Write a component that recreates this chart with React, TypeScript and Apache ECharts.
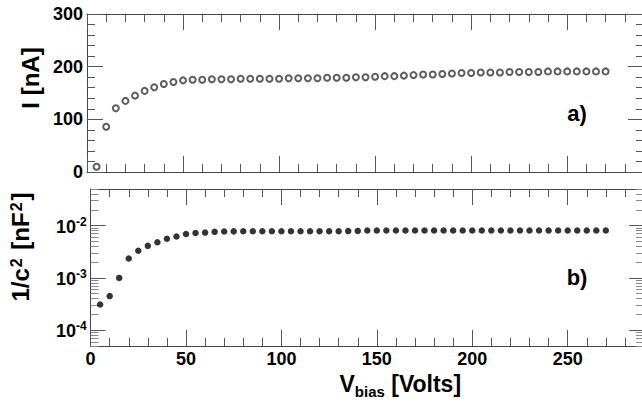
import React, { useEffect, useRef } from "react";
import * as echarts from "echarts";

// ---- data ----
const voltages = [
  5, 10, 15, 20, 25, 30, 35, 40, 45, 50,
  55, 60, 65, 70, 75, 80, 85, 90, 95, 100,
  105, 110, 115, 120, 125, 130, 135, 140, 145, 150,
  155, 160, 165, 170, 175, 180, 185, 190, 195, 200,
  205, 210, 215, 220, 225, 230, 235, 240, 245, 250,
  255, 260, 265, 270,
];

const currentNA = [
  10, 86, 121, 135, 145, 154, 161, 167, 171, 174,
  175, 175, 176, 176, 176, 177, 177, 177, 177, 177,
  178, 178, 178, 178, 179, 179, 179, 180, 180, 181,
  182, 182, 183, 184, 185, 185, 186, 187, 188, 188,
  189, 189, 189, 190, 190, 190, 190, 191, 191, 191,
  191, 191, 191, 191,
];

const invC2 = [
  3.1e-4, 4.5e-4, 1.0e-3, 2.35e-3, 3.3e-3, 4.1e-3, 4.8e-3, 5.6e-3, 6.2e-3, 6.9e-3,
  7.2e-3, 7.35e-3, 7.6e-3, 7.7e-3, 7.75e-3, 7.8e-3, 7.8e-3, 7.8e-3, 7.8e-3, 7.8e-3,
  7.8e-3, 7.8e-3, 7.8e-3, 7.8e-3, 7.8e-3, 7.8e-3, 7.85e-3, 7.9e-3, 8.05e-3, 8.05e-3,
  8.05e-3, 8.05e-3, 8.05e-3, 8.05e-3, 8.05e-3, 8.05e-3, 8.05e-3, 8.05e-3, 8.05e-3, 8.05e-3,
  8.05e-3, 8.05e-3, 8.05e-3, 8.05e-3, 8.05e-3, 8.05e-3, 8.05e-3, 8.05e-3, 8.05e-3, 8.05e-3,
  8.05e-3, 8.05e-3, 8.05e-3, 8.05e-3,
];

const xRange = [0, 290];
const xMajorStep = 50;
const xMinorStep = 10;
const currentRange = [0, 300];
const currentMajorStep = 100;
const invC2Range = [5e-5, 5e-2];
const logMajorExponents = [-4, -3, -2];
const logMinorMultipliers = [2, 3, 4, 5, 6, 7, 8, 9];
const logMinorDecades = [-5, -4, -3, -2];

const FONT = "'Liberation Sans', Arial, Helvetica, sans-serif";
const LINE_COLOR = "#444";
const TICK_COLOR = "#555";
const MINOR_LOG_COLOR = "#888";

const LOG_MIN = Math.log10(invC2Range[0]);
const LOG_MAX = Math.log10(invC2Range[1]);
const logMinorTicks: number[] = [];
logMinorDecades.forEach((d) =>
  logMinorMultipliers.forEach((m) => {
    const v = Math.log10(m * Math.pow(10, d));
    if (v > LOG_MIN - 1e-9 && v < LOG_MAX + 1e-9) logMinorTicks.push(v);
  })
);

const tickLabelStyle = {
  fontSize: 18,
  fontWeight: "bold" as const,
  fontFamily: FONT,
  color: "#000",
};

function xAxes(gridIndex: number, position: "top" | "bottom", labels: boolean, extra: any = {}) {
  const base = {
    type: "value",
    gridIndex,
    position,
    min: xRange[0],
    max: xRange[1],
    splitLine: { show: false },
  };
  return [
    {
      ...base,
      interval: xMajorStep,
      axisLine: { show: true, onZero: false, lineStyle: { color: LINE_COLOR, width: 1 } },
      axisTick: { show: true, inside: true, length: 16, lineStyle: { color: TICK_COLOR, width: 1 } },
      axisLabel: { show: labels, ...tickLabelStyle, margin: 4, showMaxLabel: false },
      ...extra,
    },
    {
      ...base,
      interval: xMinorStep,
      axisLine: { show: false, onZero: false },
      axisTick: { show: true, inside: true, length: 8, lineStyle: { color: TICK_COLOR, width: 1 } },
      axisLabel: { show: false },
    },
  ];
}

function currentAxis(position: "left" | "right", labels: boolean, extra: any = {}) {
  return {
    type: "value",
    gridIndex: 0,
    position,
    min: currentRange[0],
    max: currentRange[1],
    interval: currentMajorStep,
    splitLine: { show: false },
    axisLine: { show: true, onZero: false, lineStyle: { color: LINE_COLOR, width: 1 } },
    axisTick: { show: true, inside: true, length: 16, lineStyle: { color: TICK_COLOR, width: 1 } },
    minorTick: { show: true, splitNumber: 5, length: 8, lineStyle: { color: TICK_COLOR, width: 1 } },
    axisLabel: { show: labels, ...tickLabelStyle, margin: 4 },
    ...extra,
  };
}

function logAxes(position: "left" | "right", labels: boolean, extra: any = {}) {
  const base = {
    type: "value",
    gridIndex: 1,
    position,
    min: LOG_MIN,
    max: LOG_MAX,
    splitLine: { show: false },
  };
  return [
    {
      ...base,
      axisLine: { show: true, onZero: false, lineStyle: { color: LINE_COLOR, width: 1 } },
      axisTick: {
        show: true,
        inside: true,
        length: 15,
        customValues: logMajorExponents,
        lineStyle: { color: TICK_COLOR, width: 1 },
      },
      axisLabel: {
        show: labels,
        customValues: logMajorExponents,
        margin: 4,
        formatter: (v: number) => `{b|10}{s|${Math.round(v)}}`,
        rich: {
          b: { ...tickLabelStyle, lineHeight: 20, verticalAlign: "bottom" },
          s: {
            fontSize: 12,
            fontWeight: "bold",
            fontFamily: FONT,
            color: "#000",
            lineHeight: 12,
            padding: [0, 0, 10, 0],
            verticalAlign: "top",
          },
        },
      },
      ...extra,
    },
    {
      ...base,
      axisLine: { show: false, onZero: false },
      axisTick: {
        show: true,
        inside: true,
        length: 8,
        customValues: logMinorTicks,
        lineStyle: { color: MINOR_LOG_COLOR, width: 1 },
      },
      axisLabel: { show: false },
    },
  ];
}

const nameFont = { fontSize: 24, fontWeight: "bold" as const, fontFamily: FONT, color: "#000" };

export default function App() {
  const ref = useRef<HTMLDivElement>(null);

  useEffect(() => {
    if (!ref.current) return;
    const chart = echarts.init(ref.current, undefined, { renderer: "svg" });

    const option: any = {
      animation: false,
      backgroundColor: "#fff",
      grid: [
        { left: 87, top: 14, width: 557, height: 158 },
        { left: 87, top: 189, width: 557, height: 157 },
      ],
      xAxis: [
        ...xAxes(0, "bottom", false),
        ...xAxes(0, "top", false),
        ...xAxes(1, "bottom", true, {
          name: "{v|V}{sub|bias}{v| [Volts]}",
          nameLocation: "middle",
          nameGap: 26,
          nameTextStyle: {
            padding: [0, 0, 0, 66],
            rich: {
              v: { ...nameFont, fontSize: 23, lineHeight: 26, verticalAlign: "top" },
              sub: {
                ...nameFont,
                fontSize: 15,
                lineHeight: 15,
                padding: [15, 0, 0, 0],
                verticalAlign: "bottom",
              },
            },
          },
        }),
        ...xAxes(1, "top", false),
      ],
      yAxis: [
        currentAxis("left", true, {
          name: "I [nA]",
          nameLocation: "middle",
          nameRotate: 90,
          nameGap: 44,
          nameTextStyle: { ...nameFont, lineHeight: 24, padding: [0, 0, 0, 30] },
        }),
        currentAxis("right", false),
        ...logAxes("left", true, {
          name: "{m|1/c}{p|2}{m| [nF}{p|2}{m|]}",
          nameLocation: "middle",
          nameRotate: 90,
          nameGap: 44,
          nameTextStyle: {
            padding: [0, 0, 0, 41],
            rich: {
              m: { ...nameFont, lineHeight: 24, verticalAlign: "bottom" },
              p: {
                ...nameFont,
                fontSize: 16,
                lineHeight: 16,
                padding: [0, 2, 21, 1],
                verticalAlign: "top",
              },
            },
          },
        }),
        ...logAxes("right", false),
      ],
      series: [
        {
          type: "scatter",
          xAxisIndex: 0,
          yAxisIndex: 0,
          symbol: "emptyCircle",
          symbolSize: 6,
          itemStyle: { color: "#333", borderColor: "#333", borderWidth: 0.7 },
          data: voltages.map((v, i) => [v, currentNA[i]]),
        },
        {
          type: "scatter",
          xAxisIndex: 4,
          yAxisIndex: 2,
          symbol: "circle",
          symbolSize: 6.5,
          itemStyle: { color: "#000" },
          data: voltages.map((v, i) => [v, Math.log10(invC2[i])]),
        },
      ],
      graphic: [
        {
          type: "text",
          x: 577,
          y: 113,
          style: { text: "a)", ...nameFont, fontSize: 22, fill: "#000", align: "center", verticalAlign: "middle" },
        },
        {
          type: "text",
          x: 577,
          y: 277,
          style: { text: "b)", ...nameFont, fontSize: 22, fill: "#000", align: "center", verticalAlign: "middle" },
        },
      ],
    };

    chart.setOption(option);
    return () => chart.dispose();
  }, []);

  return (
    <div
      ref={ref}
      style={{ position: "fixed", left: 0, top: 0, width: 646, height: 407, background: "#fff" }}
    />
  );
}
